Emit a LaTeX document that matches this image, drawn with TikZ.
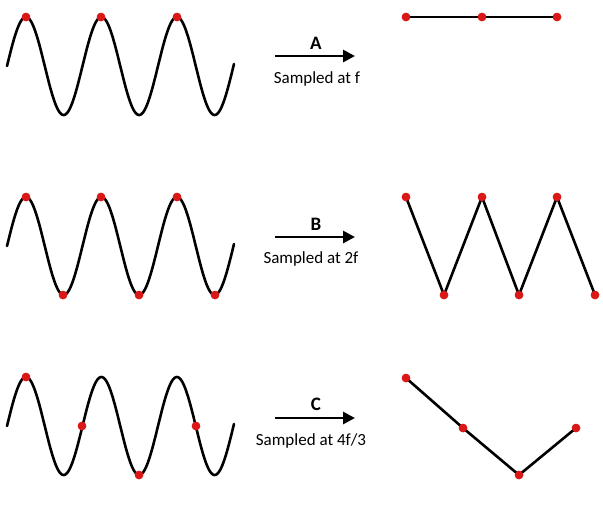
\documentclass[tikz,border=0pt]{standalone}
\usepackage{fontspec}
\setmainfont{Carlito}
\usetikzlibrary{arrows.meta}
\definecolor{dotred}{RGB}{218,24,24}
\tikzstyle{dot} = [circle, minimum width=8.5pt, fill=dotred, inner sep=0pt]
\tikzstyle{wave} = [line width=2.6pt, black, line cap=round]
\tikzstyle{link} = [line width=2.6pt, black]
\tikzstyle{sarrow} = [line width=2.8pt, -{Triangle[length=12pt,width=12pt]}]
\tikzstyle{letter} = [font=\fontsize{19}{21}\selectfont\bfseries, inner sep=0pt]
\tikzstyle{caption} = [font=\fontsize{17}{19}\selectfont, inner sep=0pt]

\begin{document}
\begin{tikzpicture}[x=1pt, y=-1pt]
    \useasboundingbox (0,0) rectangle (603,504);
    % row A: sampled at f
    \draw[wave] plot[domain=7:234, samples=220] (\x, {66-49*sin(4.768*(\x-7))});
    \node[dot] (a1) at (26,17) {};
    \node[dot] (a2) at (101,17) {};
    \node[dot] (a3) at (177,17) {};
    \coordinate (asrc) at (275,56);
    \coordinate (adst) at (355,56);
    \draw[sarrow] (asrc) -- (adst);
    \node[letter] (alab) at (316,43) {A};
    \node[caption] (acap) at (317,79) {Sampled at f};
    \node[dot] (ra1) at (406,17) {};
    \node[dot] (ra2) at (482,17) {};
    \node[dot] (ra3) at (557,17) {};
    \draw[link] (ra1) -- (ra2) -- (ra3);
    % row B: sampled at 2f
    \draw[wave] plot[domain=7:234, samples=220] (\x, {246-49*sin(4.768*(\x-7))});
    \node[dot] (b1) at (26,197) {};
    \node[dot] (b2) at (63,295) {};
    \node[dot] (b3) at (101,197) {};
    \node[dot] (b4) at (139,295) {};
    \node[dot] (b5) at (177,197) {};
    \node[dot] (b6) at (215,295) {};
    \coordinate (bsrc) at (275,237);
    \coordinate (bdst) at (355,237);
    \draw[sarrow] (bsrc) -- (bdst);
    \node[letter] (blab) at (316,224) {B};
    \node[caption] (bcap) at (311,259) {Sampled at 2f};
    \node[dot] (rb1) at (406,197) {};
    \node[dot] (rb2) at (444,295) {};
    \node[dot] (rb3) at (482,197) {};
    \node[dot] (rb4) at (519,295) {};
    \node[dot] (rb5) at (557,197) {};
    \node[dot] (rb6) at (595,295) {};
    \draw[link] (rb1.center) -- (rb2.center) -- (rb3.center) -- (rb4.center) -- (rb5.center) -- (rb6.center);
    % row C: sampled at 4f/3
    \draw[wave] plot[domain=7:234, samples=220] (\x, {426-49*sin(4.768*(\x-7))});
    \node[dot] (c1) at (26,377) {};
    \node[dot] (c2) at (82,426) {};
    \node[dot] (c3) at (139,475) {};
    \node[dot] (c4) at (196,426) {};
    \coordinate (csrc) at (275,418);
    \coordinate (cdst) at (355,418);
    \draw[sarrow] (csrc) -- (cdst);
    \node[letter] (clab) at (316,404) {C};
    \node[caption] (ccap) at (311,441) {Sampled at 4f/3};
    \node[dot] (rc1) at (406,378) {};
    \node[dot] (rc2) at (463,428) {};
    \node[dot] (rc3) at (519,475) {};
    \node[dot] (rc4) at (576,428) {};
    \draw[link] (rc1.center) -- (rc2.center) -- (rc3.center) -- (rc4.center);
    % redraw dots over the lines
    \foreach \n in {ra1,ra2,ra3,rb1,rb2,rb3,rb4,rb5,rb6,rc1,rc2,rc3,rc4,a1,a2,a3,b1,b2,b3,b4,b5,b6,c1,c2,c3,c4}
      \fill[dotred] (\n) circle (4.25pt);
\end{tikzpicture}
\end{document}
